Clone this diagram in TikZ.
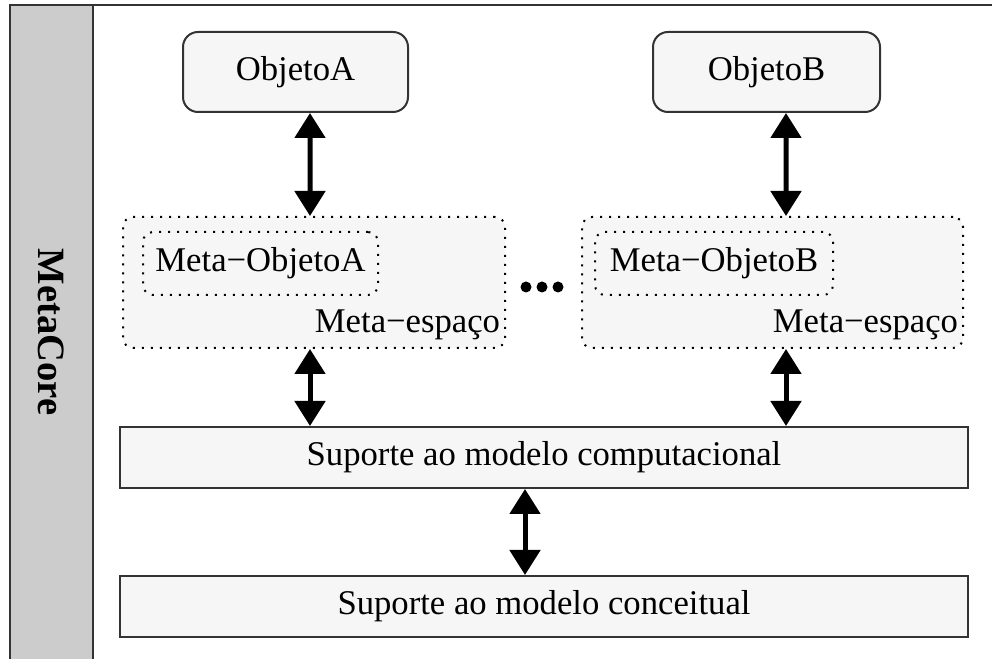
\documentclass[tikz,border=0pt]{standalone}
\usepackage{fontspec}
\setmainfont{Liberation Serif}
\usetikzlibrary{arrows.meta}

\begin{document}
\begin{tikzpicture}[x=0.3pt,y=-0.3pt,
  font=\fontsize{10.4}{12}\selectfont,
  caixa/.style={draw=black!80,line width=0.6pt,fill=caixacor,inner sep=0pt},
  espaco/.style={draw,line width=0.6pt,dash pattern=on 0.6pt off 2.1pt,
    fill=caixacor,rounded corners=3pt,inner sep=0pt},
  seta/.style={line width=1.5pt,{Triangle[width=9pt,length=7.5pt]}-{Triangle[width=9pt,length=7.5pt]}}]

\definecolor{faixacor}{rgb}{0.8,0.8,0.8}
\definecolor{caixacor}{rgb}{0.965,0.965,0.965}

\useasboundingbox (0,0) rectangle (992,659);

% faixa lateral
\fill[faixacor] (10,5) rectangle (93,659);
\draw[line width=0.6pt,black!80] (10,659) -- (10,5) -- (992,5);
\draw[line width=0.6pt,black!80] (93,5) -- (93,659);
\node[rotate=-90,font=\fontsize{11.6}{13}\selectfont\bfseries] (metacore) at (51,332) {MetaCore};

% objetos
\node[caixa,rounded corners=4.5pt,minimum width=67.5pt,minimum height=24pt] (objA) at (295.5,72) {ObjetoA};
\node[caixa,rounded corners=4.5pt,minimum width=68.1pt,minimum height=24pt] (objB) at (766.5,72) {ObjetoB};

% meta-espacos
\node[espaco,minimum width=114.6pt,minimum height=39.3pt] (espA) at (314,282.5) {};
\node[espaco,minimum width=114.3pt,minimum height=39.3pt] (espB) at (772.5,282.5) {};
\node[espaco,minimum width=70.5pt,minimum height=18.9pt] (metaA) at (260.5,263.5) {Meta−ObjetoA};
\node[espaco,minimum width=71.4pt,minimum height=18.9pt] (metaB) at (714,263.5) {Meta−ObjetoB};
\node[anchor=south east,inner sep=1pt] (rotA) at ([xshift=-0.6pt,yshift=1.5pt]espA.south east) {Meta−espaço};
\node[anchor=south east,inner sep=1pt] (rotB) at ([xshift=-0.6pt,yshift=1.5pt]espB.south east) {Meta−espaço};

% reticencias
\foreach \x in {526,542,558}
  \fill (\x,287) circle (5.5);

% suportes
\node[caixa,minimum width=254.4pt,minimum height=18.3pt] (comp) at (544,457.5) {Suporte ao modelo computacional};
\node[caixa,minimum width=254.4pt,minimum height=18.3pt] (conc) at (544,606.5) {Suporte ao modelo conceitual};

% pontos das setas
\coordinate (pA) at ([xshift=-1.2pt]espA.south);
\coordinate (pB) at ([xshift=4.05pt]espB.south);

% setas
\draw[seta] ([xshift=4.35pt]objA.south) -- ([xshift=-1.2pt]espA.north);
\draw[seta] ([xshift=5.85pt]objB.south) -- ([xshift=4.05pt]espB.north);
\draw[seta] (pA) -- (pA |- comp.north);
\draw[seta] (pB) -- (pB |- comp.north);
\draw[seta] ([xshift=-5.7pt]comp.south) -- ([xshift=-5.7pt]conc.north);

\end{tikzpicture}
\end{document}
